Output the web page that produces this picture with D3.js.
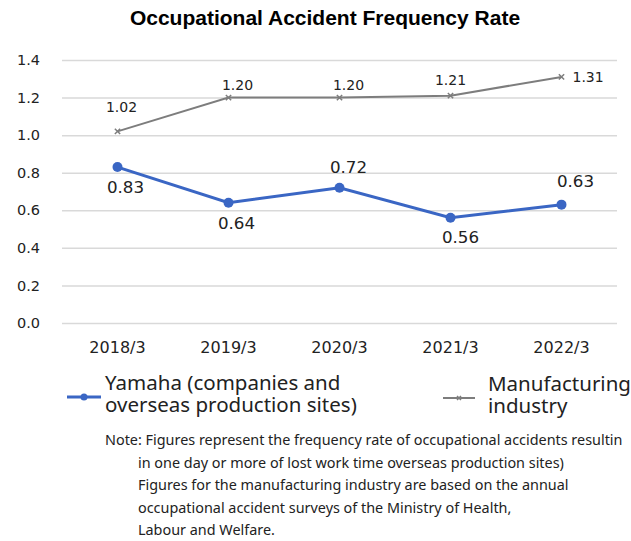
<!DOCTYPE html>
<html>
<head>
<meta charset="utf-8">
<script src="https://cdn.jsdelivr.net/npm/d3@7"></script>
<style>
  body { margin: 0; background: #fff; }
</style>
</head>
<body>
<svg id="chart" width="631" height="541"></svg>
<script>
const years = ["2018/3", "2019/3", "2020/3", "2021/3", "2022/3"];
const yamaha = [0.83, 0.64, 0.72, 0.56, 0.63];
const manufacturing = [1.02, 1.20, 1.20, 1.21, 1.31];
const yTicks = [0, 0.2, 0.4, 0.6, 0.8, 1.0, 1.2, 1.4];
const yamahaName = ["Yamaha (companies and", "overseas production sites)"];
const mfgName = ["Manufacturing", "industry"];
const noteLines = [
  "Note: Figures represent the frequency rate of occupational accidents resultin",
  "in one day or more of lost work time overseas production sites)",
  "Figures for the manufacturing industry are based on the annual",
  "occupational accident surveys of the Ministry of Health,",
  "Labour and Welfare."
];

// label placement (offsets from each point)
const yamahaLabelDx = [8, 8, 9, 10, 14];
const yamahaLabelDy = [26, 26, -15, 25, -18];
const mfgLabelDx = [4, 9, 9, 0, 11];
const mfgLabelDy = [-19, -8, -8, -11, 5];

const svg = d3.select("#chart");
const margin = {top: 60, left: 62, right: 14};
const plotW = 631 - margin.left - margin.right;
const plotH = 323 - margin.top;

const x = d3.scaleBand().domain(years).range([0, plotW]);
const y = d3.scaleLinear().domain([0, 1.4]).range([plotH, 0]);
const cx = d => x(d) + x.bandwidth() / 2;
const numFont = "'DejaVu Sans', Verdana, sans-serif";

svg.append("text")
  .attr("x", 325).attr("y", 25)
  .attr("text-anchor", "middle")
  .style("font-family", "'Liberation Sans', Arial, sans-serif")
  .style("font-weight", "bold")
  .style("font-size", "21px")
  .text("Occupational Accident Frequency Rate");

const g = svg.append("g").attr("transform", `translate(${margin.left},${margin.top})`);

// gridlines
g.append("g")
  .call(d3.axisLeft(y).tickValues(yTicks).tickSize(-plotW).tickFormat(""))
  .call(a => a.select(".domain").remove())
  .call(a => a.selectAll("line").attr("stroke", "#d9d9d9").attr("stroke-width", 1.5));

// y labels
g.append("g")
  .call(d3.axisLeft(y).tickValues(yTicks).tickSize(0).tickPadding(22).tickFormat(d3.format(".1f")))
  .call(a => a.select(".domain").remove())
  .call(a => a.selectAll("text")
    .style("font-family", numFont)
    .style("font-size", "14.5px").attr("fill", "#222"));

// x labels
g.append("g")
  .attr("transform", `translate(0,${plotH})`)
  .call(d3.axisBottom(x).tickSize(0).tickPadding(18.5))
  .call(a => a.select(".domain").remove())
  .call(a => a.selectAll("text")
    .style("font-family", numFont)
    .style("font-size", "16px").attr("fill", "#222"));

const line = d3.line().x((d, i) => cx(years[i])).y(d => y(d));

// manufacturing series
g.append("path").datum(manufacturing)
  .attr("d", line).attr("fill", "none")
  .attr("stroke", "#7d7d7d").attr("stroke-width", 2);
g.selectAll(".mfg-mark").data(manufacturing).enter().append("path")
  .attr("class", "mfg-mark")
  .attr("transform", (d, i) => `translate(${cx(years[i])},${y(d)})`)
  .attr("d", d3.symbol(d3.symbolTimes, 20)())
  .attr("stroke", "#7d7d7d").attr("stroke-width", 1.5).attr("fill", "none");
g.selectAll(".mfg-label").data(manufacturing).enter().append("text")
  .attr("class", "mfg-label")
  .attr("x", (d, i) => cx(years[i]) + mfgLabelDx[i])
  .attr("y", (d, i) => y(d) + mfgLabelDy[i])
  .attr("text-anchor", (d, i) => i === manufacturing.length - 1 ? "start" : "middle")
  .style("font-family", numFont)
  .style("font-size", "14px").attr("fill", "#222")
  .text(d => d3.format(".2f")(d));

// yamaha series
g.append("path").datum(yamaha)
  .attr("d", line).attr("fill", "none")
  .attr("stroke", "#3a66c4").attr("stroke-width", 3);
g.selectAll(".yam-mark").data(yamaha).enter().append("circle")
  .attr("class", "yam-mark")
  .attr("cx", (d, i) => cx(years[i])).attr("cy", d => y(d))
  .attr("r", 5).attr("fill", "#3a66c4");
g.selectAll(".yam-label").data(yamaha).enter().append("text")
  .attr("class", "yam-label")
  .attr("x", (d, i) => cx(years[i]) + yamahaLabelDx[i])
  .attr("y", (d, i) => y(d) + yamahaLabelDy[i])
  .attr("text-anchor", "middle")
  .style("font-family", numFont)
  .style("font-size", "16.7px").attr("fill", "#222")
  .text(d => d3.format(".2f")(d));

// legend (two-line labels as one text with tspans)
const legendFont = "'Noto Sans', 'Open Sans', sans-serif";
function legendLabel(sel, lines, lx) {
  const t = sel.append("text").attr("y", -7)
    .style("font-family", legendFont).style("font-size", "20.5px").attr("fill", "#222");
  t.selectAll("tspan").data(lines).enter().append("tspan")
    .attr("x", lx).attr("dy", (d, i) => i === 0 ? 0 : 22)
    .text(d => d);
}

const lg1 = svg.append("g").attr("transform", "translate(67,397)");
lg1.append("line").attr("x1", 0).attr("x2", 34).attr("stroke", "#3a66c4").attr("stroke-width", 3);
lg1.append("circle").attr("cx", 17).attr("r", 3.5).attr("fill", "#3a66c4");
legendLabel(lg1, yamahaName, 38);

const lg2 = svg.append("g").attr("transform", "translate(443,398)");
lg2.append("line").attr("x1", 0).attr("x2", 32).attr("stroke", "#7d7d7d").attr("stroke-width", 2);
lg2.append("path").attr("transform", "translate(16,0)").attr("d", d3.symbol(d3.symbolTimes, 12)())
  .attr("stroke", "#7d7d7d").attr("stroke-width", 1.5);
legendLabel(lg2, mfgName, 45);

// note
svg.append("g").selectAll("text").data(noteLines).enter().append("text")
  .attr("x", (d, i) => i === 0 ? 105 : 138)
  .attr("y", (d, i) => 445 + i * 22.5)
  .style("font-family", legendFont).style("font-size", "14.4px")
  .attr("fill", "#222")
  .text(d => d);
</script>
</body>
</html>
